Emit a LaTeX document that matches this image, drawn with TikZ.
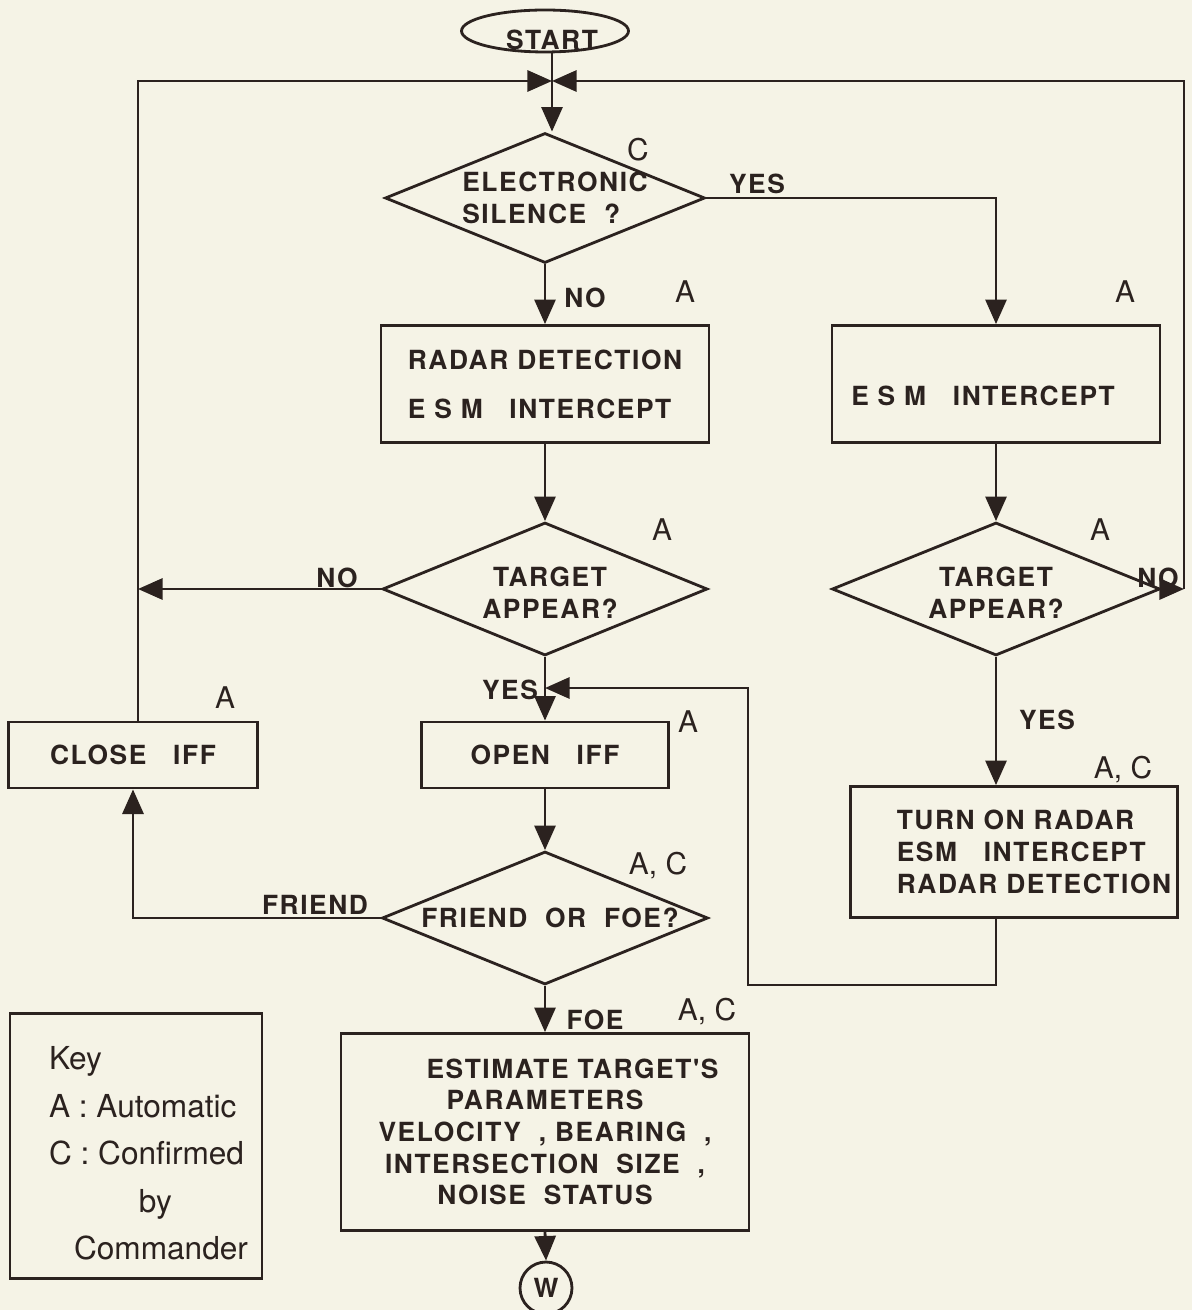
\documentclass[tikz,border=0pt]{standalone}
\usepackage{fontspec}
\setmainfont{TeX Gyre Heros}
\newfontfamily\chartfont[LetterSpace=6]{TeX Gyre Heros}
\usetikzlibrary{shapes.geometric,arrows.meta,positioning}

\definecolor{ink}{HTML}{2B221F}
\definecolor{paper}{HTML}{F5F3E6}

\tikzset{
  blk/.style={draw=ink, line width=1.6pt, rectangle, inner sep=0pt},
  dec/.style={draw=ink, line width=1.6pt, diamond, inner sep=0pt},
  term/.style={draw=ink, line width=1.6pt, ellipse, inner sep=0pt},
  lbl/.style={text=ink, inner sep=0pt, font=\chartfont\bfseries\fontsize{15}{18}\selectfont},
  tag/.style={text=ink, inner sep=0pt, font=\fontsize{17}{20}\selectfont},
  flow/.style={draw=ink, line width=1.6pt, -{Triangle[length=14pt,width=12pt]}},
  wire/.style={draw=ink, line width=1.6pt},
}

\begin{document}
\begin{tikzpicture}[x=0.02cm, y=-0.02cm]
\path[fill=paper, use as bounding box] (0,0) rectangle (1192,1310);

%% main column
\node[term, minimum width=3.34cm, minimum height=0.84cm, label={[lbl, xshift=0.14cm, yshift=-0.18cm]center:START}](start) at (545,31) {};
\coordinate (jn) at (552,81);

\node[dec, minimum width=6.4cm, minimum height=2.6cm, label={[lbl, align=left, xshift=0.2cm]center:ELECTRONIC\\SILENCE\ \ ?}](d_silence) at (545,198) {};
\node[blk, lbl, align=left, minimum width=6.56cm, minimum height=2.34cm](box_radar) at (545,384) {RADAR DETECTION\\[10pt]E S M\ \ \ INTERCEPT};
\node[dec, minimum width=6.5cm, minimum height=2.66cm, label={[lbl, align=center, xshift=0.1cm, yshift=-0.08cm]center:TARGET\\APPEAR?}](d_target) at (545,589) {};
\node[blk, lbl, minimum width=4.94cm, minimum height=1.32cm](box_open) at (545,755) {OPEN\ \ \ IFF};
\node[dec, minimum width=6.52cm, minimum height=2.66cm, label={[lbl, xshift=0.1cm]center:FRIEND\ \ OR\ \ FOE?}](d_friend) at (545,918) {};
\node[blk, lbl, align=center, minimum width=8.16cm, minimum height=3.94cm](box_est) at (545,1132) {\hspace*{1.1cm}ESTIMATE TARGET'S\\PARAMETERS\\VELOCITY\ \ ,\ BEARING\ \ ,\\INTERSECTION\ \ SIZE\ \ ,\\NOISE\ \ STATUS};
\node[circle, draw=ink, line width=1.6pt, minimum size=1.04cm, inner sep=0pt, lbl](w_conn) at (546,1288) {W};

%% left column
\node[blk, lbl, minimum width=4.98cm, minimum height=1.32cm](box_close) at (133,755) {CLOSE\ \ \ IFF};

%% right column
\node[blk, minimum width=6.56cm, minimum height=2.34cm, label={[lbl, xshift=-0.26cm, yshift=-0.24cm]center:E S M\ \ \ INTERCEPT}](box_esm) at (996,384) {};
\node[dec, minimum width=6.56cm, minimum height=2.66cm, label={[lbl, align=center, yshift=-0.08cm]center:TARGET\\APPEAR?}](d_target_r) at (996,589) {};
\node[blk, minimum width=6.54cm, minimum height=2.62cm, label={[lbl, align=left, xshift=0.4cm]center:TURN ON RADAR\\ESM\ \ \ INTERCEPT\\RADAR DETECTION}](box_radar_on) at (1014,852) {};

%% key
\node[blk, minimum width=5.04cm, minimum height=5.3cm, label={[tag, font=\fontsize{18}{27}\selectfont, align=left, xshift=0.25cm, yshift=-0.15cm]center:Key\\A : Automatic\\C : Confirmed\\\hspace*{1.8cm}by\\\hspace*{0.5cm}Commander}](key) at (136,1146) {};

% mode tags
\node[tag](t_silence) at (638,150) {C};
\node[tag](t_radar) at (685,292) {A};
\node[tag](t_esm) at (1125,292) {A};
\node[tag](t_target) at (662,530) {A};
\node[tag](t_target_r) at (1100,530) {A};
\node[tag](t_close) at (225,698) {A};
\node[tag](t_open) at (688,722) {A};
\node[tag](t_radar_on) at (1123,770) {A, C};
\node[tag](t_friend) at (658,866) {A, C};
\node[tag](t_est) at (707,1012) {A, C};

% branch labels
\node[lbl](yes_silence) at (757,184) {YES};
\node[lbl](no_silence) at (585,298) {NO};
\node[lbl](no_target) at (337,578) {NO};
\node[lbl](no_target_r) at (1158,578) {NO};
\node[lbl](yes_target) at (510,690) {YES};
\node[lbl](yes_target_r) at (1047,720) {YES};
\node[lbl](friend_lbl) at (315,905) {FRIEND};
\node[lbl](foe_lbl) at (595,1020) {FOE};

%% connectors
\coordinate (left_top) at (138,81);
\coordinate (right_mid) at (1184,589);
\coordinate (loop_r) at (996,985);
\coordinate (loop_l) at (748,985);
\coordinate (loop_t) at (748,688);

\draw[wire] (start.south -| jn) -- (jn);
\draw[flow] (jn) -- (jn |- d_silence.north);
\draw[flow] (d_silence.east) -| (box_esm.north);
\draw[flow] (d_silence.south) -- (box_radar.north);
\draw[flow] (box_radar.south) -- (d_target.north);
\draw[flow] (d_target.west) -- (d_target.west -| left_top);
\draw[flow] (box_close.north -| left_top) -- (left_top) -- (jn);
\draw[flow] (d_target.south) -- (box_open.north);
\draw[flow] (box_open.south) -- (d_friend.north);
\draw[flow] (d_friend.west) -| (box_close.south);
\draw[flow] (d_friend.south) -- (box_est.north);
\draw[flow] (box_est.south) -- (w_conn.north);

\draw[flow] (box_esm.south) -- (d_target_r.north);
\draw[flow] (d_target_r.east) -- (right_mid);
\draw[flow] (right_mid) -- (right_mid |- jn) -- (jn);
\draw[flow] (d_target_r.south) -- (d_target_r.south |- box_radar_on.north);
\draw[flow] (box_radar_on.south -| loop_r) -- (loop_r) -- (loop_l) -- (loop_t) -- (loop_t -| d_target.south);

\end{tikzpicture}
\end{document}
